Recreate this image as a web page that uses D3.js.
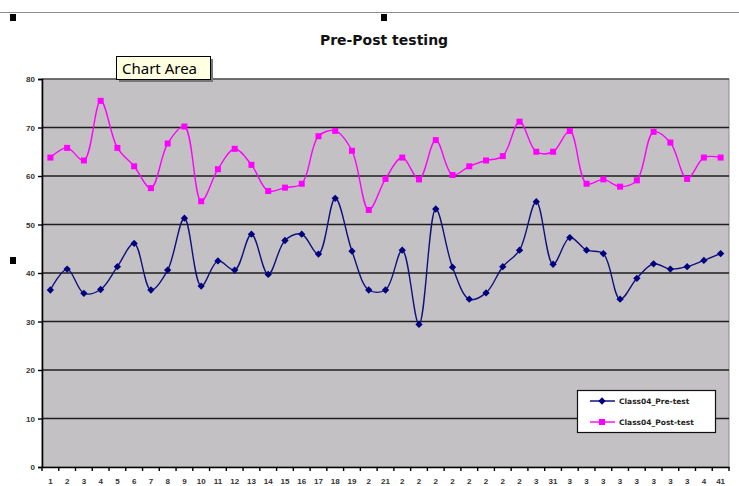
<!DOCTYPE html>
<html><head><meta charset="utf-8">
<script src="https://cdn.jsdelivr.net/npm/d3@7"></script>
<style>html,body{margin:0;padding:0;background:#fff;}svg{display:block;}</style>
</head><body>
<svg id="c" width="739" height="486"></svg>
<script>
const categories = ["1","2","3","4","5","6","7","8","9","10","11","12","13","14","15","16","17","18","19","2","21","2","2","2","2","2","2","2","2","3","31","3","3","3","3","3","3","3","3","4","41"];
const preTest = [36.5,40.8,35.8,36.6,41.3,46.1,36.5,40.6,51.3,37.3,42.5,40.6,48.0,39.7,46.7,48.0,43.9,55.4,44.5,36.5,36.5,44.7,29.4,53.2,41.2,34.6,35.9,41.3,44.7,54.7,41.8,47.3,44.7,44.0,34.6,38.9,41.9,40.8,41.3,42.6,44.0];
const postTest = [63.8,65.8,63.2,75.5,65.8,62.0,57.5,66.7,70.2,54.8,61.4,65.6,62.3,56.9,57.6,58.4,68.2,69.3,65.2,53.0,59.4,63.8,59.3,67.4,60.2,62.0,63.2,64.1,71.2,65.0,65.0,69.3,58.4,59.3,57.8,59.1,69.1,66.9,59.4,63.8,63.8];
const seriesNames = ["Class04_Pre-test","Class04_Post-test"];
const yTicks = [0,10,20,30,40,50,60,70,80];
const title = "Pre-Post testing";

const svg = d3.select("#c");
const L = 42, R = 729, T = 79, B = 467;
const idx = d3.range(categories.length);
const x = d3.scaleBand().domain(idx).range([L, R]);
const y = d3.scaleLinear().domain([0, 80]).range([B, T]);
const cx = i => x(i) + x.bandwidth() / 2;

// top frame line & handles
svg.append("line").attr("x1",0).attr("x2",739).attr("y1",12.5).attr("y2",12.5).attr("stroke","#8a8a9a").attr("stroke-width",1);
[[10,14],[381,14],[10,257]].forEach(([a,b])=>svg.append("rect").attr("x",a).attr("y",b).attr("width",6).attr("height",7).attr("fill","#000"));

// title
svg.append("text").attr("x",384).attr("y",45).attr("text-anchor","middle")
  .attr("font-family","DejaVu Sans, Verdana, sans-serif").attr("font-weight","bold").attr("font-size",14).attr("fill","#111").text(title);

// plot area
svg.append("rect").attr("x",L).attr("y",T).attr("width",R-L).attr("height",B-T).attr("fill","#c3c1c3").attr("stroke","#8c8c8c").attr("stroke-width",1);

// gridlines
svg.append("g").selectAll("line").data(yTicks.filter(v=>v>0 && v<80)).join("line")
  .attr("x1",L).attr("x2",R).attr("y1",d=>y(d)).attr("y2",d=>y(d)).attr("stroke","#1e1e1e").attr("stroke-width",1.6);
svg.append("line").attr("x1",L).attr("x2",R).attr("y1",T).attr("y2",T).attr("stroke","#555").attr("stroke-width",1.5);

// axes
const yAxis = d3.axisLeft(y).tickValues(yTicks).tickSize(4).tickPadding(3);
const gy = svg.append("g").attr("transform",`translate(${L},0)`).call(yAxis);
gy.select(".domain").attr("stroke","#000").attr("stroke-width",1.6);
gy.selectAll(".tick line").attr("stroke","#000").attr("stroke-width",1.4);
gy.selectAll("text").attr("font-family","Liberation Sans, Arial, sans-serif").attr("font-size",8).attr("font-weight","bold").attr("fill","#333");

const xAxis = d3.axisBottom(x).tickFormat(i=>categories[i]).tickSize(0).tickPadding(11);
const gx = svg.append("g").attr("transform",`translate(0,${B})`).call(xAxis);
gx.select(".domain").attr("stroke","#000").attr("stroke-width",1.6);
gx.selectAll("text").attr("font-family","Liberation Sans, Arial, sans-serif").attr("font-size",8).attr("font-weight","bold").attr("fill","#333");
svg.append("g").selectAll("line").data(d3.range(categories.length+1)).join("line")
  .attr("x1",i=>L+i*x.step()).attr("x2",i=>L+i*x.step()).attr("y1",B).attr("y2",B+4).attr("stroke","#000").attr("stroke-width",1.4);

// lines
const line = d3.line().x((d,i)=>cx(i)).y(d=>y(d)).curve(d3.curveCatmullRom.alpha(0.5));
svg.append("path").datum(postTest).attr("d",line).attr("fill","none").attr("stroke","#ff00ff").attr("stroke-width",1.4);
svg.append("path").datum(preTest).attr("d",line).attr("fill","none").attr("stroke","#10107f").attr("stroke-width",1.4);

svg.append("g").selectAll("rect").data(postTest).join("rect")
  .attr("x",(d,i)=>cx(i)-3).attr("y",d=>y(d)-3).attr("width",6).attr("height",6).attr("fill","#ff00ff");
const diamond = d3.symbol().type(d3.symbolDiamond2).size(34);
svg.append("g").selectAll("path").data(preTest).join("path")
  .attr("transform",(d,i)=>`translate(${cx(i)},${y(d)})`).attr("d",diamond).attr("fill","#000080");

// legend
const lg = svg.append("g");
lg.append("rect").attr("x",577.5).attr("y",390.5).attr("width",138).attr("height",42).attr("fill","#fff").attr("stroke","#111").attr("stroke-width",1.2);
[[401,"#000080","d",seriesNames[0]],[422,"#ff00ff","s",seriesNames[1]]].forEach(([yy,col,m,name])=>{
  lg.append("line").attr("x1",590).attr("x2",615).attr("y1",yy).attr("y2",yy).attr("stroke",col).attr("stroke-width",1.4);
  if(m==="d") lg.append("path").attr("transform",`translate(602,${yy})`).attr("d",diamond).attr("fill",col);
  else lg.append("rect").attr("x",599).attr("y",yy-3).attr("width",6).attr("height",6).attr("fill",col);
  lg.append("text").attr("x",619).attr("y",yy+3).attr("font-family","DejaVu Sans, Verdana, sans-serif").attr("font-size",7.5).attr("font-weight","bold").attr("fill","#222").text(name);
});

// tooltip
const tt = svg.append("g");
tt.append("rect").attr("x",119).attr("y",59).attr("width",94).attr("height",23).attr("fill","#777");
tt.append("rect").attr("x",116.5).attr("y",56.5).attr("width",94).attr("height",23).attr("fill","#ffffe1").attr("stroke","#000").attr("stroke-width",1);
tt.append("text").attr("x",122).attr("y",74).attr("font-family","Noto Sans, sans-serif").attr("font-size",15).attr("fill","#000").text("Chart Area");
</script>
</body></html>
